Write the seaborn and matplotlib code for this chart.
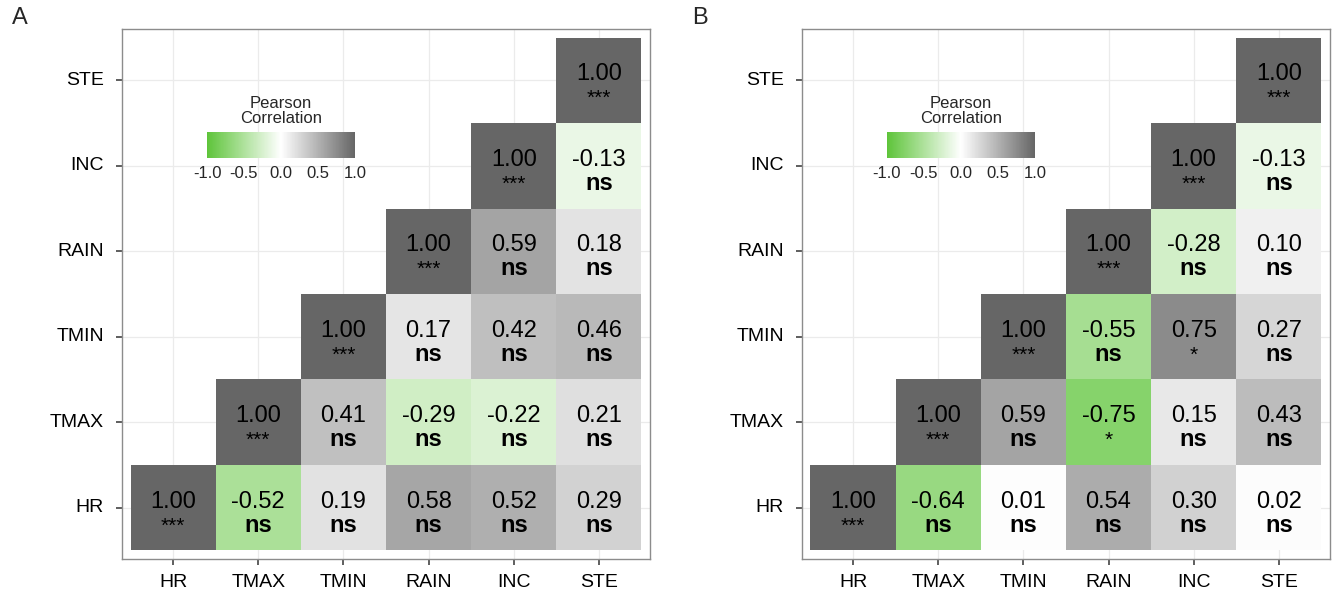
import numpy as np
import pandas as pd
import matplotlib
matplotlib.use('Agg')
import matplotlib.pyplot as plt
import seaborn as sns
from matplotlib.colors import LinearSegmentedColormap

# variable order (left->right on x, bottom->top on y)
variables = ['HR', 'TMAX', 'TMIN', 'RAIN', 'INC', 'STE']

# Panel A: each row starts on the diagonal and runs to the right
a_values = [
    [1.00, -0.52, 0.19, 0.58, 0.52, 0.29],   # HR
    [1.00, 0.41, -0.29, -0.22, 0.21],        # TMAX
    [1.00, 0.17, 0.42, 0.46],                # TMIN
    [1.00, 0.59, 0.18],                      # RAIN
    [1.00, -0.13],                           # INC
    [1.00],                                  # STE
]
a_signif = [
    ['***', 'ns', 'ns', 'ns', 'ns', 'ns'],
    ['***', 'ns', 'ns', 'ns', 'ns'],
    ['***', 'ns', 'ns', 'ns'],
    ['***', 'ns', 'ns'],
    ['***', 'ns'],
    ['***'],
]

# Panel B
b_values = [
    [1.00, -0.64, 0.01, 0.54, 0.30, 0.02],
    [1.00, 0.59, -0.75, 0.15, 0.43],
    [1.00, -0.55, 0.75, 0.27],
    [1.00, -0.28, 0.10],
    [1.00, -0.13],
    [1.00],
]
b_signif = [
    ['***', 'ns', 'ns', 'ns', 'ns', 'ns'],
    ['***', 'ns', '*', 'ns', 'ns'],
    ['***', 'ns', '*', 'ns'],
    ['***', 'ns', 'ns'],
    ['***', 'ns'],
    ['***'],
]

cmap = LinearSegmentedColormap.from_list('corr', ['#5EC43A', '#FFFFFF', '#666666'])

sns.set_style('white')
plt.rcParams['font.family'] = ['Liberation Sans', 'DejaVu Sans']


def to_frames(values, signif):
    n = len(variables)
    mat = np.full((n, n), np.nan)
    sig = np.full((n, n), '', dtype=object)
    for i, (row, srow) in enumerate(zip(values, signif)):
        for k, (v, s) in enumerate(zip(row, srow)):
            mat[i, i + k] = v
            sig[i, i + k] = s
    # heatmap draws first row at top -> reverse so STE is on top
    corr = pd.DataFrame(mat[::-1], index=variables[::-1], columns=variables)
    stars = pd.DataFrame(sig[::-1], index=variables[::-1], columns=variables)
    return corr, stars


def draw_panel(ax, values, signif, letter):
    corr, stars = to_frames(values, signif)
    cax = ax.inset_axes([0.161, 0.757, 0.280, 0.049])
    sns.heatmap(corr, ax=ax, cmap=cmap, vmin=-1, vmax=1, cbar=True, cbar_ax=cax,
                cbar_kws={'orientation': 'horizontal'}, linewidths=0, square=False)

    n = len(variables)
    for r in range(n):
        for c in range(n):
            v = corr.iloc[r, c]
            if np.isnan(v):
                continue
            ax.text(c + 0.5, r + 0.5, f'{v:.2f}', ha='center', va='baseline',
                    fontsize=17, color='black')
            s = stars.iloc[r, c]
            if s == 'ns':
                ax.text(c + 0.5, r + 0.78, s, ha='center', va='baseline',
                        fontsize=17, fontweight='bold', color='black')
            else:
                ax.text(c + 0.5, r + 0.78, s, ha='center', va='baseline',
                        fontsize=15, color='black')

    # light grid at tick centres, under the tiles
    for p in np.arange(n) + 0.5:
        ax.axvline(p, color='#EBEBEB', lw=0.9, zorder=0)
        ax.axhline(p, color='#EBEBEB', lw=0.9, zorder=0)

    ax.set_xlim(-0.1, n + 0.1)
    ax.set_ylim(n + 0.1, -0.1)
    ax.set_xlabel('')
    ax.set_ylabel('')
    for sp in ax.spines.values():
        sp.set_visible(True)
        sp.set_color('#8C8C8C')
        sp.set_linewidth(1.0)
    ax.tick_params(axis='both', which='major', length=4.5, width=1.1, color='#333333',
                   labelsize=14, labelcolor='black', bottom=True, left=True)
    ax.tick_params(axis='x', pad=6.5)
    ax.tick_params(axis='y', pad=8.5)
    plt.setp(ax.get_yticklabels(), rotation=0)
    plt.setp(ax.get_xticklabels(), rotation=0)

    # colour bar styling
    cb = ax.collections[0].colorbar
    cb.outline.set_visible(False)
    cb.set_ticks([-1.0, -0.5, 0.0, 0.5, 1.0])
    cb.set_ticklabels(['-1.0', '-0.5', '0.0', '0.5', '1.0'])
    cax.tick_params(length=0, labelsize=12, pad=6)
    cax.set_title('Pearson\nCorrelation', fontsize=12, pad=6, linespacing=1.05)

    ax.figure.text(ax.get_position().x0 - 0.0765, 0.988, letter, fontsize=17,
                   ha='center', va='top')


fig = plt.figure(figsize=(13.35, 5.98), dpi=100)
ax_a = fig.add_axes([0.0914, 0.0652, 0.3955, 0.8863])
ax_b = fig.add_axes([0.6007, 0.0652, 0.3955, 0.8863])

draw_panel(ax_a, a_values, a_signif, 'A')
draw_panel(ax_b, b_values, b_signif, 'B')

fig.savefig('out.png', dpi=100)
